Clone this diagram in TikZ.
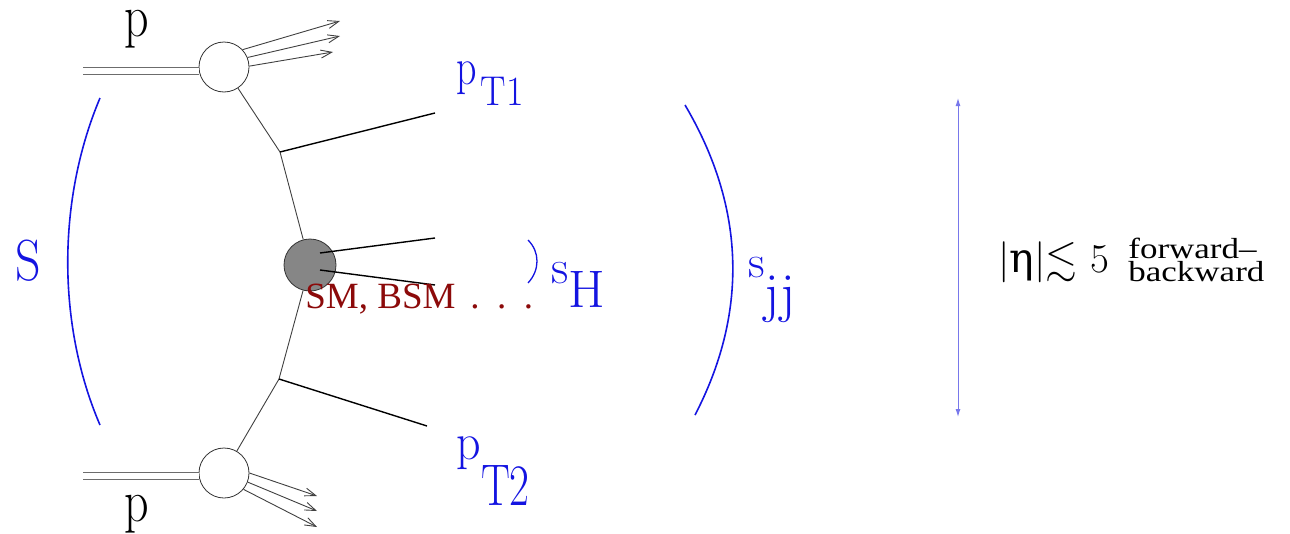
\documentclass[tikz,border=0pt]{standalone}
\usepackage{amssymb}
\usepackage{fontspec}
\setmainfont{Liberation Serif}
\newfontfamily\dvserif{DejaVu Serif}
\usetikzlibrary{arrows.meta,positioning}
\definecolor{smred}{RGB}{140,10,10}
\definecolor{kinblue}{RGB}{20,20,225}
\definecolor{etablue}{RGB}{120,120,235}
\newcommand{\fsz}[1]{\fontsize{#1}{#1}\selectfont}
\newcommand{\lmfont}{\fontfamily{lmr}\selectfont}

\begin{document}
\begin{tikzpicture}[x = 1pt, y = -1pt,
  blob/.style = {circle, draw = black!80, fill = white, minimum size = 50pt, inner sep = 0pt, line width = 0.8pt},
  hardblob/.style = {blob, fill = gray!95, minimum size = 52pt},
  beam/.style = {draw = gray!85!black, double = white, double distance = 6pt, line width = 0.9pt},
  parton/.style = {draw = black!75, line width = 0.9pt},
  jet/.style = {draw = black, line width = 1.4pt},
  track/.style = {draw = black!75, line width = 0.9pt, -{Straight Barb[length = 11pt, width = 8pt]}},
  kin/.style = {draw = kinblue, line width = 1.6pt},
  lbl/.style = {inner sep = 0pt, anchor = base west, font = \fsz{20}},
  biglbl/.style = {lbl, font = \fsz{20}\lmfont}]
\useasboundingbox (0,0) rectangle (1290,533);
% incoming protons and their remnants
\node[blob] (blobA) at (224,67) {};
\node[blob] (blobB) at (224,473) {};
\coordinate (beamA) at (83,71);
\coordinate (beamB) at (83,476);
\draw[beam] (beamA) -- (beamA -| blobA.west);
\draw[beam] (beamB) -- (beamB -| blobB.west);
\coordinate (trkA1) at (340,21);
\coordinate (trkA2) at (340,36);
\coordinate (trkA3) at (333,52);
\coordinate (trkB1) at (317,496);
\coordinate (trkB2) at (317,511);
\coordinate (trkB3) at (317,527);
\draw[track] (blobA.43) -- (trkA1);
\draw[track] (blobA.22) -- (trkA2);
\draw[track] (blobA.2) -- (trkA3);
\draw[track] (blobB.0) -- (trkB1);
\draw[track] (blobB.-21) -- (trkB2);
\draw[track] (blobB.-40) -- (trkB3);
% partons, tagging jets and the hard process
\node[hardblob] (hard) at (310,265) {};
\coordinate (vtxA) at (280,152);
\coordinate (vtxB) at (279,379);
\coordinate (jetA) at (435,113);
\coordinate (jetB) at (427,426);
\coordinate (jetH1) at (435,238);
\coordinate (jetH2) at (435,285);
\draw[parton] (blobA) -- (vtxA) -- (hard);
\draw[parton] (blobB) -- (vtxB) -- (hard);
\draw[jet] (vtxA) -- (jetA);
\draw[jet] (vtxB) -- (jetB);
\draw[jet] ([shift = {(10,-12)}]hard.center) -- (jetH1);
\draw[jet] ([shift = {(10,5)}]hard.center) -- (jetH2);
% energy brackets
\coordinate (arcS1) at (100,98);
\coordinate (arcS2) at (100,425);
\coordinate (arcJ1) at (685,105);
\coordinate (arcJ2) at (695,415);
\coordinate (arcH1) at (528,240);
\coordinate (arcH2) at (528,283);
\draw[kin] (arcS1) .. controls (57,200) and (57,325) .. (arcS2);
\draw[kin] (arcJ1) .. controls (747,210) and (747,315) .. (arcJ2);
\draw[kin, line width = 1.3pt] (arcH1) .. controls (540,252) and (540,270) .. (arcH2);
% labels
\node[biglbl, anchor = base, text height = 9pt, xscale = 2.4, yscale = 3.0] (pA) at (137,36) {p};
\node[biglbl, anchor = base, text height = 9pt, xscale = 2.4, yscale = 3.0] (pB) at (137,521) {p};
\node[biglbl, anchor = base, xscale = 2.5, yscale = 2.9, text = kinblue] (sqrtS) at (28,280) {S};
\node[biglbl, xscale = 2.0, yscale = 2.6, text = kinblue] (ptA) at (456,84) {p\hspace{2pt}\raisebox{-8.3pt}{\scalebox{0.95}[0.8]{T1}}};
\node[biglbl, xscale = 2.4, yscale = 2.6, text = kinblue] (ptB) at (456,459) {p\raisebox{-18pt}{\scalebox{0.9}[1.13]{T2}}};
\node[biglbl, scale = 2.4, text = kinblue] (sH) at (551,283) {s\raisebox{-10.4pt}{\fsz{22}H}};
\node[biglbl, scale = 2.3, text = kinblue] (sjj) at (748,277) {s\raisebox{-14.8pt}{\fsz{24}jj}};
\node[lbl, scale = 1.85, text = smred] (bsm) at (305,308) {SM, BSM\hspace{8pt}.\hspace{9.5pt}.\hspace{9.5pt}.};
% rapidity range
\coordinate (etaTop) at (958,98);
\coordinate (etaBot) at (958,417);
\draw[etablue, line width = 1pt, {Latex[length = 8pt, width = 5pt]}-{Latex[length = 8pt, width = 5pt]}] (etaTop) -- (etaBot);
\node[biglbl, scale = 2.05] (eta) at (998,272) {|{\dvserif η}|$\lesssim$ 5};
\node[lbl, xscale = 1.75, yscale = 1.45] (fwd) at (1128,258) {forward–};
\node[lbl, xscale = 1.75, yscale = 1.45] (bwd) at (1128,281) {backward};
\end{tikzpicture}
\end{document}
